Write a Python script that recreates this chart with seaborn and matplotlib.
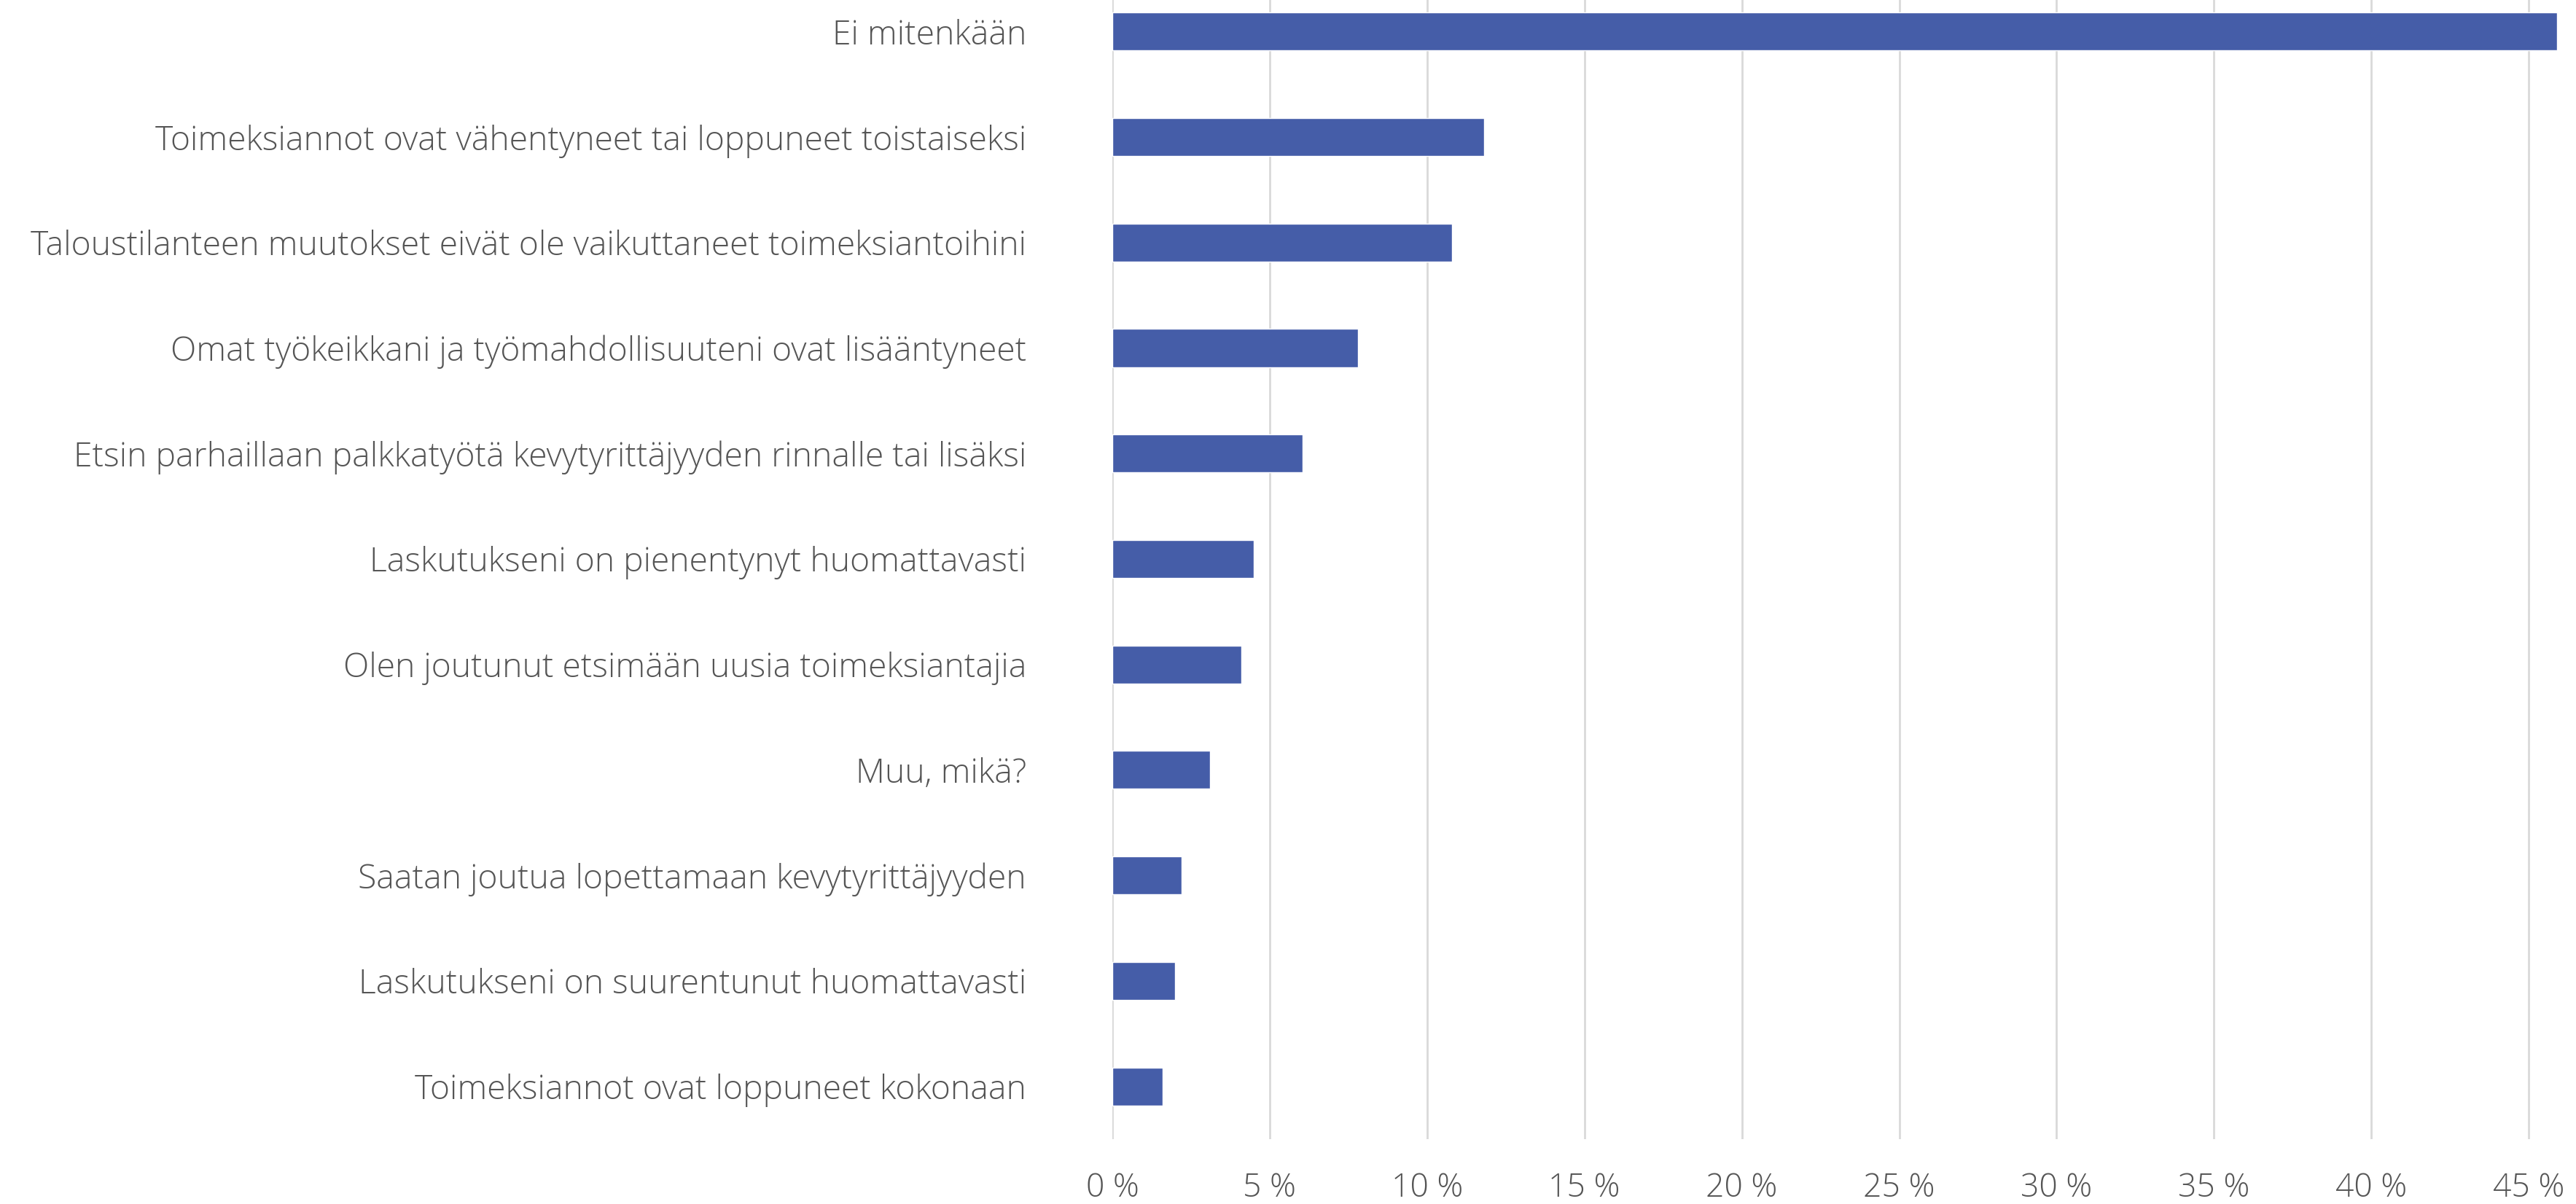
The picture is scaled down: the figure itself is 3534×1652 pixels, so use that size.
import pandas as pd
import seaborn as sns
import matplotlib.pyplot as plt
from matplotlib.ticker import FuncFormatter

# answer options, top to bottom
vaihtoehdot = [
    "Ei mitenkään",
    "Toimeksiannot ovat vähentyneet tai loppuneet toistaiseksi",
    "Taloustilanteen muutokset eivät ole vaikuttaneet toimeksiantoihini",
    "Omat työkeikkani ja työmahdollisuuteni ovat lisääntyneet",
    "Etsin parhaillaan palkkatyötä kevytyrittäjyyden rinnalle tai lisäksi",
    "Laskutukseni on pienentynyt huomattavasti",
    "Olen joutunut etsimään uusia toimeksiantajia",
    "Muu, mikä?",
    "Saatan joutua lopettamaan kevytyrittäjyyden",
    "Laskutukseni on suurentunut huomattavasti",
    "Toimeksiannot ovat loppuneet kokonaan",
]
osuudet = [45.9, 11.8, 10.8, 7.8, 6.05, 4.5, 4.1, 3.1, 2.2, 2.0, 1.6]
x_ticks = [0, 5, 10, 15, 20, 25, 30, 35, 40, 45]

df = pd.DataFrame({"vaihtoehto": vaihtoehdot, "osuus": osuudet})

sns.set_style("white")
plt.rcParams['font.family'] = ['Open Sans', 'DejaVu Sans']

fig = plt.figure(figsize=(35.34, 16.52), dpi=100)
ax = fig.add_axes([0.4318, 0.0539, 1.0 - 0.4318, 1.0176 - 0.0539])

sns.barplot(data=df, x="osuus", y="vaihtoehto", orient="h", color="#455DA8",
            width=0.36, saturation=1, ax=ax)

ax.set_xlim(0, 46.5)
ax.set_xticks(x_ticks)
ax.xaxis.set_major_formatter(FuncFormatter(lambda v, p: f"{v:.0f} %"))
ax.grid(axis="x", color="#D9D9D9", linewidth=2)
ax.set_axisbelow(True)
for s in ax.spines.values():
    s.set_visible(False)
ax.set_xlabel("")
ax.set_ylabel("")
ax.tick_params(axis="x", length=0, pad=33, labelsize=32, labelcolor="#555555")
ax.tick_params(axis="y", length=0, pad=85, labelsize=33.3, labelcolor="#555555")
for lbl in ax.get_xticklabels() + ax.get_yticklabels():
    lbl.set_fontweight("light")

fig.savefig("out.png", dpi=100)
